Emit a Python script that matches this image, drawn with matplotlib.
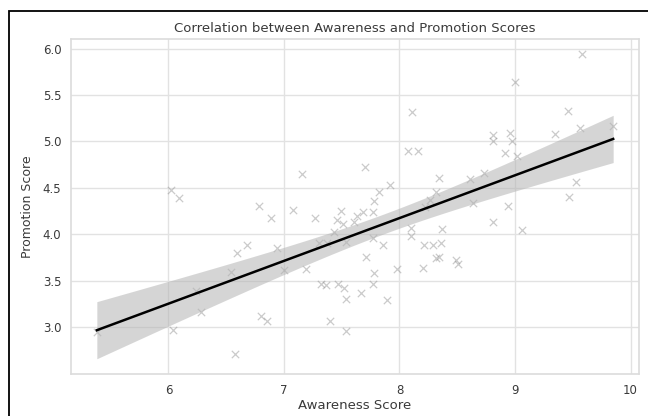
import numpy as np
import matplotlib
matplotlib.use("Agg")
import matplotlib.pyplot as plt
from matplotlib.patches import Rectangle

# awareness / promotion scores per respondent
awareness = [
    5.38, 6.04, 6.02, 6.09, 6.24, 6.28, 6.54, 6.59, 6.68, 6.58,
    6.80, 6.85, 6.94, 7.00, 7.19, 6.89, 7.08, 7.27, 7.30, 7.32,
    7.16, 6.78, 7.36, 7.47, 7.52, 7.54, 7.40, 7.54, 7.46, 7.49,
    7.51, 7.61, 7.43, 7.54, 7.68, 7.77, 7.77, 7.86, 7.71, 7.78,
    7.77, 7.67, 7.89, 7.98, 8.10, 8.10, 8.21, 8.29, 8.36, 8.37,
    8.32, 8.34, 8.20, 8.49, 8.51, 8.81, 9.06, 8.94, 8.11, 8.07,
    8.16, 7.70, 7.92, 7.82, 7.78, 8.34, 8.32, 8.61, 8.73, 8.81,
    8.81, 8.96, 8.97, 8.91, 9.02, 9.00, 9.58, 9.46, 9.35, 9.56,
    9.85, 9.53, 9.47, 8.26, 8.64, 7.37, 7.63, 8.22,
]
promotion = [
    2.94, 2.97, 4.48, 4.39, 3.39, 3.16, 3.59, 3.80, 3.88, 2.71,
    3.12, 3.06, 3.85, 3.61, 3.62, 4.17, 4.26, 4.17, 3.91, 3.46,
    4.65, 4.30, 3.45, 3.46, 3.42, 3.30, 3.06, 2.96, 4.15, 4.25,
    4.11, 4.13, 4.02, 3.92, 4.24, 4.24, 3.96, 3.88, 3.75, 3.58,
    3.46, 3.37, 3.29, 3.62, 4.07, 3.98, 3.88, 3.88, 3.91, 4.06,
    3.74, 3.75, 3.64, 3.72, 3.68, 4.13, 4.05, 4.30, 5.32, 4.90,
    4.90, 4.73, 4.53, 4.46, 4.36, 4.61, 4.45, 4.60, 4.66, 5.07,
    5.00, 5.09, 5.00, 4.88, 4.84, 5.64, 5.94, 5.33, 5.08, 5.15,
    5.17, 4.56, 4.40, 4.37, 4.34, 3.90, 4.20, 4.29,
]

x = np.array(awareness)
y = np.array(promotion)

# least squares fit with a 95% confidence band
slope, intercept = np.polyfit(x, y, 1)
grid = np.linspace(x.min(), x.max(), 100)
fit = intercept + slope * grid
n = len(x)
resid = y - (intercept + slope * x)
s = np.sqrt(np.sum(resid ** 2) / (n - 2))
sxx = np.sum((x - x.mean()) ** 2)
se = s * np.sqrt(1.0 / n + (grid - x.mean()) ** 2 / sxx)
ci = 1.99 * se

text_col = "#3a3a3a"
plt.rcParams["font.family"] = "DejaVu Sans"

fig = plt.figure(figsize=(6.48, 4.16), dpi=100)
ax = fig.add_axes([0.1096, 0.101, 0.8765, 0.805])

ax.scatter(x, y, marker="x", s=28, color="#8c8c8c", alpha=0.45, linewidths=0.9, zorder=2)
ax.fill_between(grid, fit - ci, fit + ci, color="#b4b4b4", alpha=0.55, linewidth=0, zorder=3)
ax.plot(grid, fit, color="black", linewidth=1.8, zorder=4)

ax.set_xticks([6, 7, 8, 9, 10])
ax.set_yticks([3.0, 3.5, 4.0, 4.5, 5.0, 5.5, 6.0])
ax.set_yticklabels(["3.0", "3.5", "4.0", "4.5", "5.0", "5.5", "6.0"])
ax.grid(True, color="#e2e2e2", linewidth=1.0)
ax.set_axisbelow(True)
for sp in ax.spines.values():
    sp.set_color("#dcdcdc")
    sp.set_linewidth(1.2)
ax.tick_params(length=0, labelsize=8.5, labelcolor=text_col, pad=7)

ax.set_title("Correlation between Awareness and Promotion Scores", fontsize=9.5, color=text_col, pad=5)
ax.set_xlabel("Awareness Score", fontsize=9.5, color=text_col, labelpad=2)
ax.set_ylabel("Promotion Score", fontsize=9, color=text_col, labelpad=6)

# outer frame around the figure
fig.patches.append(Rectangle((9 / 648, -0.2), 1.2, 0.2 + 1 - 11 / 416,
                             transform=fig.transFigure, fill=False,
                             edgecolor="black", linewidth=1.3))

fig.savefig("out.png", dpi=100, facecolor="white")
